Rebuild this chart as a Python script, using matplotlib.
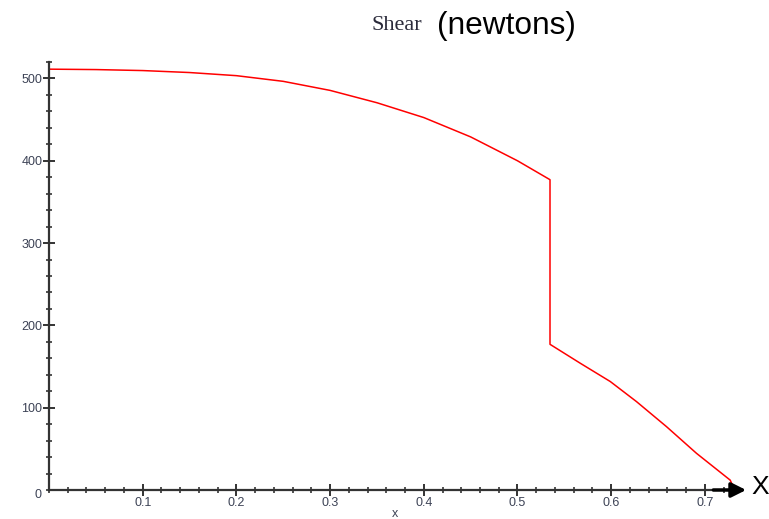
import matplotlib
matplotlib.use("Agg")
import matplotlib.pyplot as plt
from matplotlib.ticker import MultipleLocator, FixedLocator

# Shear (newtons) versus x
x_vals = [0.0, 0.05, 0.1, 0.15, 0.2, 0.25, 0.3, 0.35, 0.4, 0.45, 0.5,
          0.5347, 0.5347, 0.567, 0.599, 0.627, 0.659, 0.691, 0.727, 0.731]
shear = [511.3, 510.8, 509.6, 507.2, 503.4, 496.5, 485.5, 470.5, 452.5,
         429.0, 400.0, 377.0, 177.0, 154.0, 131.8, 107.4, 77.0, 44.6,
         12.0, 2.0]

x_major = [0.1, 0.2, 0.3, 0.4, 0.5, 0.6, 0.7]
x_labels = ["0.1", "0.2", "0.3", "0.4", "0.5", "0.6", "0.7"]
y_major = [100, 200, 300, 400, 500]
y_labels = ["100", "200", "300", "400", "500"]

W, H = 769, 519
fig = plt.figure(figsize=(W / 100, H / 100), dpi=100)
ax = fig.add_axes([49 / W, 29 / H, (733 - 49) / W, (490 - 62) / H])
ax.plot(x_vals, shear, color="red", lw=1.1, clip_on=False)

ax.set_xlim(0, 0.73)
ax.set_ylim(0, 520)
for s in ["top", "right"]:
    ax.spines[s].set_visible(False)
for s in ["left", "bottom"]:
    ax.spines[s].set_color("#333333")
    ax.spines[s].set_linewidth(1.6)

lab_col = "#3c4255"
ax.xaxis.set_major_locator(FixedLocator(x_major))
ax.set_xticklabels(x_labels, family="Liberation Sans")
ax.xaxis.set_minor_locator(MultipleLocator(0.02))
ax.yaxis.set_major_locator(FixedLocator(y_major))
ax.set_yticklabels(y_labels, family="Liberation Sans")
ax.yaxis.set_minor_locator(MultipleLocator(20))
ax.tick_params(which="major", direction="inout", length=8.6, width=1.4,
               color="#333333", labelsize=9, labelcolor=lab_col, pad=0.5)
ax.tick_params(which="minor", direction="inout", length=5, width=1.2,
               color="#333333")

fig.text(38 / W, 1 - 495 / H, "0", fontsize=9, family="Liberation Sans",
         color=lab_col, ha="center", va="center")
fig.text(395 / W, 1 - 514 / H, "x", fontsize=9, family="Liberation Sans",
         color=lab_col, ha="center", va="center")

fig.text(396.5 / W, 1 - 30 / H, "Shear", fontsize=16,
         family="Liberation Serif", color="#2a2a3a", ha="center",
         va="baseline")
fig.text(506.5 / W, 1 - 34 / H, "(newtons)", fontsize=22.8,
         family="Liberation Sans", color="black", ha="center", va="baseline")

ax.annotate("", xy=(0.744, 0), xytext=(0.709, 0), xycoords="data",
            textcoords="data", annotation_clip=False,
            arrowprops=dict(arrowstyle="-|>", mutation_scale=22, color="black",
                            lw=2.5, shrinkA=0, shrinkB=0))
ax.text(0.759, 4, "X", fontsize=19, family="Liberation Sans", color="black",
        ha="center", va="center", clip_on=False)

fig.savefig("out.png", dpi=100)
